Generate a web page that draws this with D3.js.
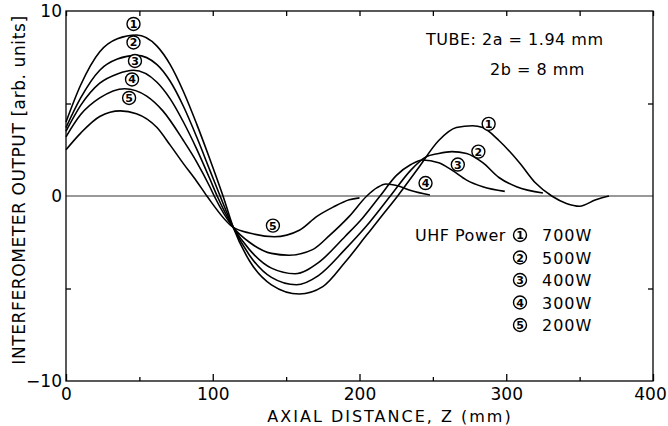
<!DOCTYPE html>
<html lang="en">
<head>
    <meta charset="UTF-8">
    <title>Interferometer output vs axial distance</title>
    <script src="https://cdn.jsdelivr.net/npm/d3@7"></script>
    <style>
        html, body {
            margin: 0;
            padding: 0;
            background: white;
        }

        svg text {
            font-family: "DejaVu Sans", sans-serif;
            fill: black;
        }
    </style>
</head>
<body>
<svg id="chart" width="668" height="426"></svg>
<script>
    // [z (mm), output (arb. units)]
    let curve700 = [[0, 4.0], [10, 6.0], [23, 7.8], [35, 8.5], [48, 8.7], [62, 8.1], [71, 7.1], [80, 5.65], [89, 3.9],
        [98, 2.0], [107, 0], [114, -1.7], [125, -3.5], [140, -4.8], [159, -5.3], [175, -4.9], [190, -3.6], [205, -2.1],
        [215, -1.1], [226, 0], [240, 1.5], [254, 3.0], [266, 3.7], [277, 3.8], [284, 3.7], [295, 3.0], [309, 1.8],
        [320, 0.7], [331, 0], [341, -0.4], [350, -0.55], [361, -0.2], [370, 0]];
    let curve500 = [[0, 3.7], [10, 5.3], [23, 6.8], [35, 7.4], [48, 7.6], [62, 7.1], [71, 6.2], [80, 4.85], [89, 3.2],
        [98, 1.4], [105, 0], [114, -1.7], [125, -3.2], [140, -4.4], [157, -4.8], [172, -4.3], [190, -2.9], [205, -1.6],
        [221, 0], [235, 1.4], [245, 2.1], [254, 2.3], [263, 2.4], [273, 2.3], [284, 1.8], [295, 1.0], [307, 0.5],
        [325, 0.16]];
    let curve400 = [[0, 3.5], [10, 4.9], [23, 6.1], [35, 6.6], [46, 6.8], [62, 6.15], [71, 5.25], [80, 4.0], [89, 2.55],
        [98, 0.93], [103, 0], [114, -1.7], [125, -2.9], [140, -3.9], [156, -4.2], [172, -3.6], [190, -2.2], [202, -1.2],
        [214, 0], [225, 1.1], [235, 1.7], [243, 1.95], [254, 1.8], [263, 1.4], [273, 0.86], [284, 0.5], [299, 0.25]];
    let curve300 = [[0, 3.2], [10, 4.4], [23, 5.3], [40, 5.8], [55, 5.4], [66, 4.6], [80, 3.0], [89, 1.85], [98, 0.5],
        [101, 0], [114, -1.7], [125, -2.5], [140, -3.1], [152, -3.2], [168, -2.9], [180, -2.1], [193, -1.1], [205, 0],
        [212, 0.45], [218, 0.65], [226, 0.55], [235, 0.3], [248, 0.05]];
    let curve200 = [[0, 2.5], [10, 3.4], [23, 4.3], [37, 4.6], [48, 4.45], [62, 3.7], [71, 2.75], [80, 1.75], [89, 0.8],
        [96, 0], [114, -1.7], [125, -2.0], [142, -2.2], [159, -1.85], [171, -1.1], [182, -0.6], [193, -0.2], [200, -0.1]];

    let curves = [curve700, curve500, curve400, curve300, curve200];
    let powers = ["700W", "500W", "400W", "300W", "200W"];
    let numbers = ["1", "2", "3", "4", "5"];

    // curve labels: [z, output] where the circled number sits
    let peakLabels = [[46, 9.3], [46, 8.3], [47, 7.3], [45, 6.3], [43, 5.3]];
    let tailLabels = [[288, 3.9], [281, 2.4], [267, 1.7], [245, 0.7], [141, -1.6]];

    let xTicks = [0, 100, 200, 300, 400];
    let xMinor = [50, 150, 250, 350];
    let yTicks = [-10, 0, 10];
    let yMinor = [-5, 5];

    let svg = d3.select("#chart");
    let mLeft = 66, mRight = 653, mTop = 11, mBottom = 381;

    let x = d3.scaleLinear().domain([0, 400]).range([mLeft, mRight]);
    let y = d3.scaleLinear().domain([-10, 10]).range([mBottom, mTop]);

    // zero line
    svg.append("line")
        .attr("x1", x(0)).attr("x2", x(400))
        .attr("y1", y(0)).attr("y2", y(0))
        .attr("stroke", "#333")
        .attr("stroke-width", 1);

    // frame
    svg.append("rect")
        .attr("x", mLeft).attr("y", mTop)
        .attr("width", mRight - mLeft).attr("height", mBottom - mTop)
        .attr("fill", "none")
        .attr("stroke", "black")
        .attr("stroke-width", 1.3);

    // inward ticks on all four sides
    let bottomAxis = d3.axisBottom(x).tickValues(xTicks).tickSize(-7).tickPadding(7).tickFormat(d3.format("d"));
    let gx = svg.append("g").attr("transform", "translate(0," + mBottom + ")").call(bottomAxis);
    gx.select(".domain").remove();
    gx.selectAll("text").style("font-size", "17px");
    gx.selectAll("text").filter(function (d) { return d === 400; }).attr("dx", -3);

    let gxm = svg.append("g").attr("transform", "translate(0," + mBottom + ")")
        .call(d3.axisBottom(x).tickValues(xMinor).tickSize(-4).tickFormat(""));
    gxm.select(".domain").remove();

    let gt = svg.append("g").attr("transform", "translate(0," + mTop + ")")
        .call(d3.axisTop(x).tickValues(xTicks.concat(xMinor)).tickSize(-5).tickFormat(""));
    gt.select(".domain").remove();

    let gy = svg.append("g").attr("transform", "translate(" + mLeft + ",0)")
        .call(d3.axisLeft(y).tickValues(yTicks).tickSize(0).tickPadding(4).tickFormat(d3.format("d")));
    gy.select(".domain").remove();
    gy.selectAll("text").style("font-size", "17px");

    let gym = svg.append("g").attr("transform", "translate(" + mLeft + ",0)")
        .call(d3.axisLeft(y).tickValues(yMinor).tickSize(-5).tickFormat(""));
    gym.select(".domain").remove();

    let gr = svg.append("g").attr("transform", "translate(" + mRight + ",0)")
        .call(d3.axisRight(y).tickValues(yMinor).tickSize(-5).tickFormat(""));
    gr.select(".domain").remove();

    svg.selectAll(".tick line").attr("stroke", "black").attr("stroke-width", 1.3);

    // curves
    let line = d3.line()
        .x(function (d) { return x(d[0]); })
        .y(function (d) { return y(d[1]); })
        .curve(d3.curveMonotoneX);

    svg.selectAll("path.curve")
        .data(curves)
        .enter()
        .append("path")
        .attr("class", "curve")
        .attr("d", line)
        .attr("fill", "none")
        .attr("stroke", "black")
        .attr("stroke-width", 1.6);

    function circled(cx, cy, label) {
        let g = svg.append("g").attr("transform", "translate(" + cx + "," + cy + ")");
        g.append("circle")
            .attr("r", 6.5)
            .attr("fill", "white")
            .attr("stroke", "black")
            .attr("stroke-width", 1.4);
        g.append("text")
            .text(label)
            .attr("y", 4)
            .attr("text-anchor", "middle")
            .style("font-size", "11px")
            .style("font-weight", "bold");
    }

    peakLabels.forEach(function (p, i) {
        circled(x(p[0]), y(p[1]), numbers[i]);
    });
    tailLabels.forEach(function (p, i) {
        circled(x(p[0]), y(p[1]), numbers[i]);
    });

    // tube note
    svg.append("text").text("TUBE: 2a = 1.94 mm")
        .attr("x", 426).attr("y", 45)
        .style("font-size", "16px")
        .style("letter-spacing", "0.5px");
    svg.append("text").text("2b = 8 mm")
        .attr("x", 490).attr("y", 75)
        .style("font-size", "16px")
        .style("letter-spacing", "0.5px");

    // legend
    svg.append("text").text("UHF Power")
        .attr("x", 415).attr("y", 241)
        .style("font-size", "16px")
        .style("letter-spacing", "0.5px");
    powers.forEach(function (p, i) {
        let yy = 235 + i * 22.5;
        circled(520, yy, numbers[i]);
        svg.append("text").text(p)
            .attr("x", 542).attr("y", yy + 6)
            .style("font-size", "16px")
            .style("letter-spacing", "1px");
    });

    // axis titles
    svg.append("text").text("AXIAL DISTANCE, Z (mm)")
        .attr("x", 390).attr("y", 422)
        .attr("text-anchor", "middle")
        .style("font-size", "16px")
        .style("letter-spacing", "2px");

    svg.append("text").text("INTERFEROMETER OUTPUT [arb. units]")
        .attr("transform", "translate(25,190) rotate(-90)")
        .attr("text-anchor", "middle")
        .style("font-size", "17px")
        .style("letter-spacing", "0.6px");
</script>
</body>
</html>
